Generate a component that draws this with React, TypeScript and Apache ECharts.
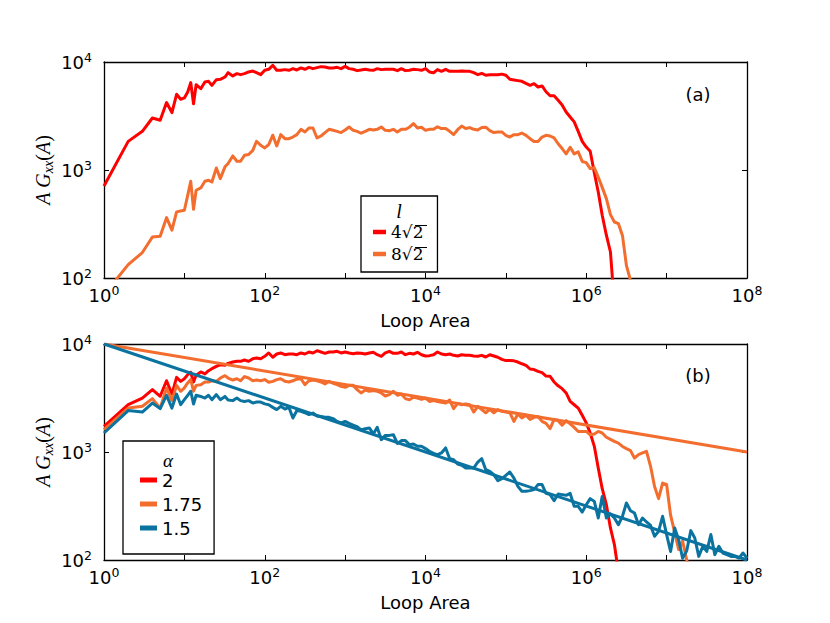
import React, { useEffect, useRef } from "react";
import * as echarts from "echarts";

// Loop areas (x positions shared by all measured curves)
const X_AREA = [
  1, 2, 3, 4, 5, 6, 7, 8, 9, 10, 11, 12, 13, 14,
  16, 18, 20, 22, 25, 28, 32, 35, 40, 45, 50, 56, 63, 71, 79, 89,
  100, 112, 126, 141, 158, 178, 200, 224, 251, 282, 316, 355, 398, 447, 501, 562, 631, 708, 794, 891,
  1000, 1120, 1260, 1410, 1580, 1780, 2000, 2240, 2510, 2820, 3160, 3550, 3980, 4470, 5010, 5620, 6310, 7080, 7940, 8910,
  1e4, 1.12e4, 1.26e4, 1.41e4, 1.58e4, 1.78e4, 2e4, 2.24e4, 2.51e4, 2.82e4, 3.16e4, 3.55e4, 3.98e4, 4.47e4, 5.01e4, 5.62e4, 6.31e4, 7.08e4, 7.94e4, 8.91e4,
  1e5, 1.12e5, 1.26e5, 1.41e5, 1.58e5, 1.78e5, 2e5, 2.24e5, 2.51e5, 2.82e5, 3.16e5, 3.55e5, 3.98e5, 4.47e5, 5.01e5, 5.62e5, 6.31e5, 7.08e5, 7.94e5, 8.91e5,
  1e6, 1.12e6, 1.26e6, 1.41e6, 1.58e6, 1.78e6, 2e6, 2.24e6, 2.51e6, 2.82e6, 3.16e6, 3.55e6, 3.98e6, 4.47e6, 5.01e6, 5.62e6, 6.31e6, 7.08e6, 7.94e6, 8.91e6,
  1e7, 1.12e7, 1.26e7, 1.41e7, 1.58e7, 1.78e7, 2e7, 2.24e7, 2.51e7, 2.82e7, 3.16e7, 3.55e7, 3.98e7, 4.47e7, 5.01e7, 5.62e7, 6.31e7, 7.08e7, 7.94e7, 8.91e7,
  1e8,
];

// Panel (a): l = 4√2 and l = 8√2
const RED_A = [
  711, 1840, 2280, 3030, 2890, 4210, 3400, 5020, 4520, 4650, 5270, 6440, 4110, 6160,
  5660, 6530, 6620, 6080, 6860, 6910, 7260, 7960, 7430, 7800, 7640, 7800, 8090, 8240, 7960, 7640,
  8380, 8560, 9310, 8380, 8380, 8500, 8380, 8680, 8440, 8810, 8560, 8930, 8680, 8870, 9060, 9000, 8810, 8800, 8930, 8680,
  9100, 8680, 8560, 8320, 8440, 8560, 8440, 8380, 8680, 8500, 8560, 8560, 8560, 8320, 8680, 8320, 8380, 8560, 8500, 8380,
  8680, 8090, 7960, 8500, 8200, 8560, 8200, 8200, 8200, 8270, 8200, 8200, 7960, 7630, 7850, 7540, 7630, 7630, 7630, 7720,
  7540, 6920, 6820, 6720, 6620, 6330, 6080, 6300, 5870, 6000, 5300, 4870, 4870, 4420, 4000, 3440, 3100, 2790, 2280, 1840,
  1630, 1490, 944, 626, 381, 249, 174, 57,
];
const ORANGE_A = [
  70, 133, 172, 240, 243, 362, 277, 409, 418, 424, 583, 786, 433, 649,
  682, 786, 803, 775, 1045, 832, 1070, 1150, 1350, 1205, 1205, 1370, 1390, 1520, 1845, 1695,
  1600, 1720, 2100, 1670, 2125, 1950, 1950, 2020, 2125, 2380, 2250, 2450, 2450, 1980, 2065, 2220, 2380, 2330, 2280, 2220,
  2345, 2500, 2330, 2280, 2190, 2280, 2380, 2345, 2380, 2500, 2330, 2310, 2380, 2250, 2380, 2380, 2490, 2690, 2450, 2490,
  2330, 2380, 2380, 2510, 2420, 2420, 2280, 2125, 2360, 2550, 2420, 2470, 2380, 2345, 2470, 2490, 2310, 2220, 2250, 2250,
  2095, 2020, 2125, 2125, 2200, 2095, 1950, 1840, 1840, 2020, 2095, 2065, 1980, 1750, 1580, 1410, 1625, 1410, 1470, 1200,
  1170, 1030, 1050, 860, 690, 543, 386, 330, 319, 248, 131, 95, 50,
];

// Panel (b): alpha = 2, 1.75, 1.5
const RED_B = [
  1730, 2740, 3160, 3780, 3280, 4570, 3440, 4910, 4510, 4770, 5200, 5470, 4450, 5130,
  5510, 5280, 5660, 5910, 6210, 6440, 6350, 6620, 6810, 6910, 6910, 7110, 6910, 7310, 7420, 7310,
  7690, 8260, 7540, 8080, 8260, 7960, 8080, 8080, 7960, 8260, 8080, 8430, 8260, 8670, 8430, 8200, 8430, 8430, 8550, 8260,
  8430, 8260, 8140, 8260, 8200, 8080, 8260, 8380, 7960, 7690, 8260, 8550, 8200, 8200, 8430, 7960, 8200, 8080, 8380, 7960,
  7740, 7800, 7960, 8430, 8080, 7960, 8080, 7850, 7740, 7960, 7850, 7850, 7740, 7690, 7850, 7580, 7960, 7740, 7540, 7210,
  7020, 7020, 6980, 6810, 6560, 6350, 5870, 5800, 5580, 5430, 5050, 5020, 4450, 4100, 3860, 3520, 2940, 2740, 2550, 2190,
  1860, 1500, 1128, 711, 457, 325, 198, 139, 78,
];
const ORANGE_B = [
  1610, 2550, 2650, 3120, 2550, 3920, 2990, 4140, 3650, 3920, 4360, 4680, 3650, 4140,
  4200, 4450, 4450, 4570, 4510, 4840, 5090, 4840, 4640, 4770, 4570, 4990, 4840, 4570, 4640, 4570,
  4680, 4420, 4510, 4680, 4770, 4510, 4450, 4570, 4720, 4770, 4200, 4570, 4640, 4570, 4450, 4270, 4510, 4330, 4200, 4050,
  3970, 4140, 4140, 3780, 3520, 3750, 3650, 3700, 3650, 3520, 3300, 3400, 3650, 3350, 3440, 3120, 3050, 3210, 3160, 3070,
  3160, 2940, 2990, 2940, 2880, 2840, 3030, 2520, 2820, 2740, 2790, 2740, 2345, 2650, 2470, 2310, 2480, 2300, 2470, 2380,
  2345, 2310, 1920, 2250, 2065, 2190, 2005, 2095, 2130, 1920, 1840, 1645, 2005, 1950, 1770, 1950, 1820, 1690, 1550, 1550,
  1550, 1445, 1470, 1550, 1500, 1370, 1310, 1255, 1210, 1125, 1075, 1030, 880, 945, 980, 1015, 737, 480, 370, 516,
  500, 260, 180, 125, 150, 100, 65,
];
const BLUE_B = [
  1500, 2420, 2345, 2840, 2520, 3350, 2550, 3440, 2740, 3050, 3350, 3650, 2780, 3350,
  3270, 3160, 3350, 3050, 3400, 3050, 3270, 3030, 2990, 3160, 2990, 2940, 2990, 2840, 2900, 2900,
  2790, 2740, 2590, 2470, 2650, 2500, 2590, 2065, 2420, 2380, 2310, 2220, 2295, 2150, 2130, 2095, 2095, 2040, 1920, 1860,
  1920, 1840, 1770, 1720, 1600, 1645, 1670, 1470, 1690, 1300, 1425, 1425, 1445, 1200, 1275, 1275, 1170, 1185, 1130, 1130,
  1075, 1015, 972, 945, 980, 1090, 867, 849, 774, 753, 711, 711, 711, 807, 867, 686, 662, 617, 543, 567,
  608, 653, 574, 481, 433, 433, 439, 448, 499, 499, 414, 403, 354, 408, 403, 397, 414, 314, 314, 278,
  325, 370, 349, 245, 388, 245, 267, 245, 212, 254, 337, 286, 272, 212, 245, 225, 209, 166, 184, 254,
  172, 120, 198, 154, 104, 122, 187, 160, 108, 134, 120, 172, 112, 134, 116, 112, 108, 108, 104, 116,
  104,
];

// Power-law guide lines in panel (b)
const FIT_X = [1, 1e8];
const FIT_175 = [1e4, 1e3];
const FIT_15 = [1e4, 1e2];

const LEGEND_A = ["4√2", "8√2"];
const LEGEND_B = ["2", "1.75", "1.5"];
const X_NAME = "Loop Area";

const RED = "#ff0000";
const ORANGE = "#f26d2e";
const BLUE = "#0b73a0";

const SANS = "DejaVu Sans";
const SERIF = "Liberation Serif";
const MATH = "DejaVu Serif";

function pairs(xs: number[], ys: number[]) {
  return ys.map((y, i) => [xs[i], y]);
}

export default function App() {
  const ref = useRef<HTMLDivElement>(null);

  useEffect(() => {
    if (!ref.current) return;
    const chart = echarts.init(ref.current, null, { renderer: "svg" });

    const tickRich = {
      b: { fontSize: 18, fontFamily: SANS, color: "#000", lineHeight: 22 },
      s: { fontSize: 12.5, fontFamily: SANS, color: "#000", lineHeight: 12, verticalAlign: "top" },
    };
    const expOf = (v: number) => Math.round(Math.log10(v));
    const fmtX = (v: number) => {
      const e = expOf(v);
      return e % 2 === 0 ? `{b|10}{s|${e}}` : "";
    };
    const fmtY = (v: number) => `{b|10}{s|${expOf(v)}}`;

    const frame = { show: true, onZero: false, lineStyle: { color: "#000", width: 1.3 } };
    const ticks = { show: true, inside: true, length: 5, lineStyle: { color: "#000", width: 1 } };

    const xAxes: any[] = [];
    const yAxes: any[] = [];
    [0, 1].forEach((g) => {
      xAxes.push({
        gridIndex: g, type: "log", logBase: 10, min: 1, max: 1e8, position: "bottom",
        axisLine: frame, axisTick: ticks, splitLine: { show: false },
        axisLabel: { formatter: fmtX, rich: tickRich, margin: 6 },
        name: X_NAME, nameLocation: "middle", nameGap: 33,
        nameTextStyle: { fontFamily: SANS, fontSize: 18, color: "#000" },
      });
      xAxes.push({
        gridIndex: g, type: "log", logBase: 10, min: 1, max: 1e8, position: "top",
        axisLine: frame, axisTick: ticks, splitLine: { show: false },
        axisLabel: { show: false },
      });
      yAxes.push({
        gridIndex: g, type: "log", logBase: 10, min: 100, max: 10000, position: "left",
        axisLine: frame, axisTick: ticks, splitLine: { show: false },
        axisLabel: { formatter: fmtY, rich: tickRich, margin: 12 },
      });
      yAxes.push({
        gridIndex: g, type: "log", logBase: 10, min: 100, max: 10000, position: "right",
        axisLine: frame, axisTick: ticks, splitLine: { show: false },
        axisLabel: { show: false },
      });
    });

    const line = (name: string, data: number[][], color: string, ax: number) => ({
      name, type: "line", xAxisIndex: ax, yAxisIndex: ax, data, color,
      showSymbol: false, symbol: "none", clip: true,
      lineStyle: { color, width: 3, join: "round" },
      emphasis: { disabled: true }, silent: true,
    });

    const legendCommon = {
      orient: "vertical", icon: "rect", selectedMode: false,
      borderColor: "#000", borderWidth: 1.3, borderRadius: 0, backgroundColor: "#fff",
    };

    const yNameRich = {
      i: { fontFamily: SERIF, fontStyle: "italic", fontSize: 20, lineHeight: 24, color: "#000" },
      r: { fontFamily: SERIF, fontSize: 20, lineHeight: 24, color: "#000" },
      s: { fontFamily: SERIF, fontStyle: "italic", fontSize: 14, lineHeight: 12, verticalAlign: "bottom", color: "#000" },
    };
    const yName = (y: number) => ({
      type: "text", x: 43, y, rotation: Math.PI / 2, silent: true,
      style: {
        text: "{i|A G}{s|xx}{r|(}{i|A}{r|)}", rich: yNameRich,
        align: "center", verticalAlign: "middle",
      },
    });
    const label = (text: string, x: number, y: number, family: string, size: number, italic = false) => ({
      type: "text", x, y, silent: true, z: 100,
      style: {
        text, fontFamily: family, fontSize: size, fontStyle: italic ? "italic" : "normal",
        fill: "#000", align: "center", verticalAlign: "middle",
      },
    });
    const vinculum = (x1: number, x2: number, y: number) => ({
      type: "line", silent: true, z: 100,
      shape: { x1, y1: y, x2, y2: y },
      style: { stroke: "#000", lineWidth: 1 },
    });

    chart.setOption({
      animation: false,
      backgroundColor: "#fff",
      grid: [
        { left: 104, top: 62, width: 643, height: 216 },
        { left: 104, top: 344, width: 643, height: 216 },
      ],
      xAxis: xAxes,
      yAxis: yAxes,
      legend: [
        {
          ...legendCommon, data: LEGEND_A, left: 361, top: 196,
          itemWidth: 13, itemHeight: 4.5, itemGap: 4, padding: [27, 14, 9, 12],
          textStyle: { fontFamily: MATH, fontSize: 17, lineHeight: 18, color: "#000" },
        },
        {
          ...legendCommon, data: LEGEND_B, left: 123, top: 441,
          itemWidth: 17, itemHeight: 5, itemGap: 6, padding: [30, 12, 17, 17],
          textStyle: { fontFamily: SANS, fontSize: 18, lineHeight: 18, color: "#000" },
        },
      ],
      series: [
        line(LEGEND_A[0], pairs(X_AREA, RED_A), RED, 0),
        line(LEGEND_A[1], pairs(X_AREA, ORANGE_A), ORANGE, 0),
        line(LEGEND_B[0], pairs(X_AREA, RED_B), RED, 2),
        line(LEGEND_B[1], pairs(X_AREA, ORANGE_B), ORANGE, 2),
        line(LEGEND_B[2], pairs(X_AREA, BLUE_B), BLUE, 2),
        line("fit 1.75", pairs(FIT_X, FIT_175), ORANGE, 2),
        line("fit 1.5", pairs(FIT_X, FIT_15), BLUE, 2),
      ],
      graphic: [
        yName(170),
        yName(452),
        label("(a)", 698, 94, SANS, 18),
        label("(b)", 698, 375, SANS, 18),
        label("l", 399, 211, SERIF, 20, true),
        label("α", 168, 460, SERIF, 19, true),
        vinculum(415, 427, 225.5),
        vinculum(415, 427, 247.5),
      ],
    });

    return () => chart.dispose();
  }, []);

  return (
    <div
      ref={ref}
      style={{ position: "fixed", left: 0, top: 0, width: 830, height: 623 }}
    />
  );
}
